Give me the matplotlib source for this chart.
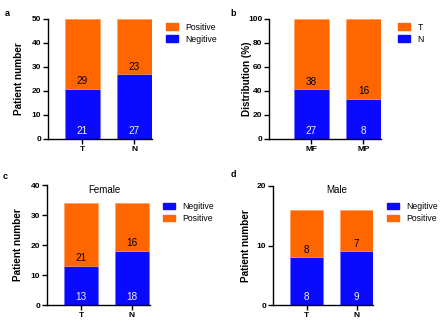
import matplotlib
matplotlib.use('Agg')
import matplotlib.pyplot as plt
from matplotlib.patches import Patch

plt.rcParams['font.family'] = ['Liberation Sans', 'DejaVu Sans']

# --- data ---
groups_a = ['T', 'N']
negative_a = [21, 27]
positive_a = [29, 23]

groups_b = ['MF', 'MP']
n_b = [27, 8]
t_b = [38, 16]

groups_c = ['T', 'N']
negative_c = [13, 18]
positive_c = [21, 16]

groups_d = ['T', 'N']
negative_d = [8, 9]
positive_d = [8, 7]

ORANGE = '#ff6600'
BLUE = '#0a0aff'
W, H = 440, 321

fig = plt.figure(figsize=(4.4, 3.21), dpi=100)


def px_axes(left, right, top, bottom):
    # place axes by pixel box of the reference
    return fig.add_axes([left / W, 1 - bottom / H, (right - left) / W, (bottom - top) / H])


def draw_panel(ax, groups, low, high, ymax, yticks, xlim, width, ylabel, label_x,
               lab_low, lab_high, low_name, high_name, legend_xy, legend_order):
    x = list(range(len(groups)))
    ax.bar(x, low, width, color=BLUE, edgecolor='#6a6aff', linewidth=0.4)
    ax.bar(x, high, width, bottom=low, color=ORANGE, edgecolor='#ff9955', linewidth=0.4)
    for i in x:
        ax.annotate(str(lab_low[i]), (i, 0), xytext=(0, 5.5), textcoords='offset points',
                    ha='center', va='center', color='#f0f0ff', fontsize=7.2)
        ax.annotate(str(lab_high[i]), (i, low[i]), xytext=(0, 5.5), textcoords='offset points',
                    ha='center', va='center', color='black', fontsize=7.2)
    ax.set_xlim(*xlim)
    ax.set_ylim(0, ymax)
    ax.set_yticks(yticks)
    ax.set_xticks(x)
    ax.set_xticklabels(groups, fontweight='bold', fontsize=6)
    for t in ax.get_yticklabels():
        t.set_fontweight('bold')
        t.set_fontsize(6)
    ax.tick_params(length=3.3, width=1, pad=1.5)
    for s in ['top', 'right']:
        ax.spines[s].set_visible(False)
    for s in ['left', 'bottom']:
        ax.spines[s].set_linewidth(1)
    ax.set_ylabel(ylabel, fontweight='bold', fontsize=7.2)
    pos = ax.get_position()
    ax.yaxis.set_label_coords((label_x / W - pos.x0) / pos.width, 0.5)
    handles = {low_name: Patch(color=BLUE), high_name: Patch(color=ORANGE)}
    ax.legend([handles[k] for k in legend_order], legend_order,
              loc='upper left', bbox_to_anchor=(legend_xy[0] / W, 1 - legend_xy[1] / H),
              bbox_transform=fig.transFigure, frameon=False, fontsize=6.2,
              borderpad=0, borderaxespad=0, handlelength=1.4, handleheight=0.75,
              handletextpad=0.85, labelspacing=0.35)


# panel a
ax_a = px_axes(48, 152, 19, 139)
draw_panel(ax_a, groups_a, negative_a, positive_a, 50, range(0, 51, 10),
           (-0.663, 1.337), 0.673, 'Patient number', 24, negative_a, positive_a,
           'Negitive', 'Positive', (166, 22.5), ['Positive', 'Negitive'])

# panel b (bar heights in percent, labels are counts)
tot_b = [n + t for n, t in zip(n_b, t_b)]
n_pct = [100 * n / s for n, s in zip(n_b, tot_b)]
t_pct = [100 * t / s for t, s in zip(t_b, tot_b)]
ax_b = px_axes(269, 381, 19, 139)
draw_panel(ax_b, groups_b, n_pct, t_pct, 100, range(0, 101, 20),
           (-0.817, 1.337), 0.673, 'Distribution (%)', 252, n_b, t_b,
           'N', 'T', (398, 22.5), ['T', 'N'])

# panel c
ax_c = px_axes(47, 150, 185, 305)
draw_panel(ax_c, groups_c, negative_c, positive_c, 40, range(0, 41, 10),
           (-0.667, 1.353), 0.667, 'Patient number', 23, negative_c, positive_c,
           'Negitive', 'Positive', (163, 202), ['Negitive', 'Positive'])

# panel d
ax_d = px_axes(273, 373, 186, 305)
draw_panel(ax_d, groups_d, negative_d, positive_d, 20, range(0, 21, 10),
           (-0.67, 1.33), 0.66, 'Patient number', 251, negative_d, positive_d,
           'Negitive', 'Positive', (387, 202), ['Negitive', 'Positive'])

fig.text(104 / W, 1 - 190 / H, 'Female', ha='center', va='center', fontsize=7)
fig.text(337 / W, 1 - 190 / H, 'Male', ha='center', va='center', fontsize=7)

# panel letters
for lbl, xx, yy in [('a', 5, 13), ('b', 230, 13), ('c', 3, 177), ('d', 231, 175)]:
    fig.text(xx / W, 1 - yy / H, lbl, ha='left', va='center', fontsize=6.5, fontweight='bold')

fig.savefig('out.png', dpi=100)
